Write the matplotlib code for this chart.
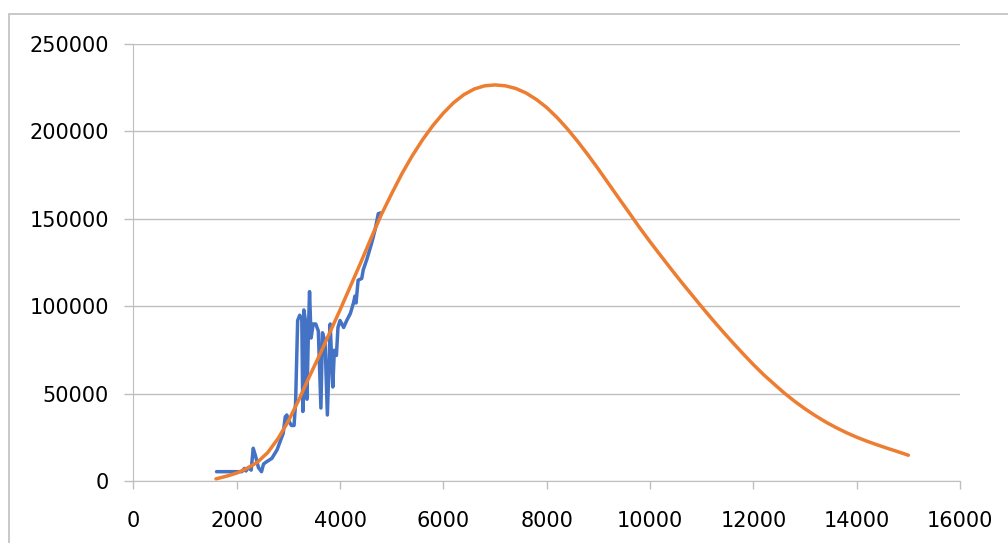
import numpy as np
import matplotlib
matplotlib.use("Agg")
from matplotlib import pyplot as plt
from matplotlib.patches import Rectangle

obs_x = [1610, 1800, 2100, 2150, 2180, 2230, 2280, 2320, 2370, 2420, 2480, 2520,
         2580, 2680, 2780, 2900, 2940, 2970, 3000, 3060, 3110, 3140, 3180, 3220,
         3260, 3280, 3300, 3340, 3360, 3390, 3410, 3440, 3480, 3530, 3580, 3630,
         3660, 3710, 3755, 3790, 3810, 3860, 3890, 3930, 3960, 4000, 4070, 4130,
         4200, 4260, 4290, 4310, 4350, 4420, 4450, 4520, 4610, 4680, 4740, 4790]
obs_y = [5600, 5600, 5600, 7500, 6000, 8000, 6500, 19000, 14000, 8000, 5600, 10000,
         11300, 13200, 18000, 27500, 37000, 38000, 35000, 32000, 32000, 45000, 92000, 95000,
         93000, 40000, 98000, 90000, 47000, 88000, 108500, 82000, 90000, 90000, 86000, 42000,
         85000, 80000, 38000, 70000, 90000, 54000, 75000, 72000, 88000, 92000, 88000, 92000,
         96000, 102000, 106000, 102000, 115000, 116000, 121000, 127000, 136000, 144000, 153000, 153500]

# fitted curve (orange), read every 200
fit_x = list(range(1600, 15001, 200))
fit_y = [1500, 3000, 4800, 7500, 11000, 16500, 24500, 34500, 46500, 59500,
         72000, 85000, 98000, 111500, 125000, 139000, 152500, 164500, 176000, 186200,
         195400, 203500, 210500, 216500, 221100, 224300, 226100, 226600, 226100, 224600,
         222000, 218300, 213700, 208000, 201500, 194300, 186600, 178500, 170100, 161700,
         153400, 145000, 137000, 129300, 121700, 114200, 107000, 99800, 92800, 86000,
         79400, 73000, 66800, 61000, 55700, 50500, 45800, 41500, 37600, 34000,
         30800, 27900, 25300, 23000, 20900, 18900, 17000, 15000]

xticks = np.arange(0, 16001, 2000)
yticks = np.arange(0, 250001, 50000)

plt.rcParams['font.family'] = ['DejaVu Sans']
fig = plt.figure(figsize=(10.08, 5.43), dpi=100)
ax = fig.add_axes([0.1323, 0.1133, 0.8201, 0.8057])

# outer chart border
fig.patches.append(Rectangle((9/1008, -0.1), 1.1, 1.1 - 14/543,
                             transform=fig.transFigure, fill=False,
                             edgecolor='#BFBFBF', linewidth=1.2))

ax.plot(obs_x, obs_y, color='#4472C4', linewidth=2.5, solid_joinstyle='round',
        solid_capstyle='round', zorder=3)
ax.plot(fit_x, fit_y, color='#ED7D31', linewidth=2.5, solid_joinstyle='round',
        solid_capstyle='round', zorder=4)

ax.set_xlim(0, 16000)
ax.set_ylim(0, 250000)
ax.set_xticks(xticks)
ax.set_yticks(yticks)
ax.set_xticklabels([str(v) for v in xticks])
ax.set_yticklabels([str(v) for v in yticks])

ax.grid(axis='y', color='#BFBFBF', linewidth=1.0)
ax.set_axisbelow(True)
for s in ['top', 'right']:
    ax.spines[s].set_visible(False)
ax.spines['left'].set_color('#BFBFBF')
ax.spines['bottom'].set_color('#BFBFBF')

ax.tick_params(axis='y', length=6.5, width=1.0, color='#BFBFBF', pad=11, labelsize=15)
ax.tick_params(axis='x', length=6, width=1.0, color='#BFBFBF', pad=15, labelsize=15)

fig.savefig('out.png', dpi=100)
